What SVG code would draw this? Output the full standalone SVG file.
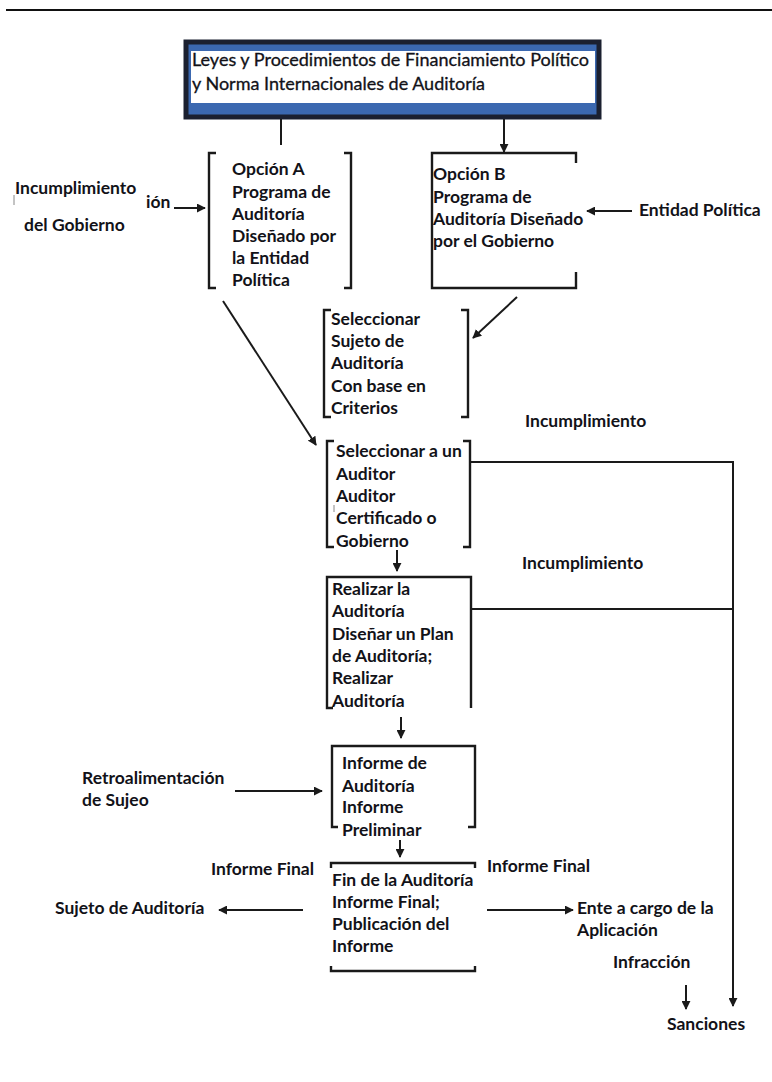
<svg xmlns="http://www.w3.org/2000/svg" width="772" height="1082" viewBox="0 0 772 1082">
<style>
  .t { font-family: Lato, "Open Sans", "Liberation Sans", sans-serif; font-size: 17.5px; font-weight: 700; fill: #121218; }
  .title { font-family: Lato, "Open Sans", "Liberation Sans", sans-serif; font-size: 17px; font-weight: 400; fill: #121218; stroke: #121218; stroke-width: 0.3; }
  .b { fill: none; stroke: #1a1a1a; stroke-width: 2.4; }
  .c { fill: none; stroke: #1a1a1a; stroke-width: 2; }
  .ca { fill: none; stroke: #1a1a1a; stroke-width: 2; marker-end: url(#ah); }
</style>
<defs>
  <marker id="ah" viewBox="0 0 10 10" refX="9" refY="5" markerWidth="9" markerHeight="9" markerUnits="userSpaceOnUse" orient="auto">
    <path d="M0,0 L10,5 L0,10 Z" fill="#1a1a1a"/>
  </marker>
</defs>
<rect width="772" height="1082" fill="#ffffff"/>
<line x1="6" y1="10" x2="772" y2="10" stroke="#111" stroke-width="2"/>

<g id="title">
  <rect x="186" y="42" width="413" height="75" fill="#3b68b0" stroke="#1b2030" stroke-width="5"/>
  <rect x="191" y="51" width="404" height="52" fill="#ffffff"/>
  <text class="title" x="192" y="66" textLength="397" lengthAdjust="spacingAndGlyphs">Leyes y Procedimientos de Financiamiento Político</text>
  <text class="title" x="192" y="90" textLength="293" lengthAdjust="spacingAndGlyphs">y Norma Internacionales de Auditoría</text>
</g>

<g id="opcionA">
  <path class="b" d="M216,153 H209 V288 H216 M344,153 H351 V288 H344"/>
  <text class="t" x="232" y="175">Opción A</text>
  <text class="t" x="232" y="198">Programa de</text>
  <text class="t" x="232" y="220">Auditoría</text>
  <text class="t" x="232" y="242">Diseñado por</text>
  <text class="t" x="232" y="264">la Entidad</text>
  <text class="t" x="232" y="286">Política</text>
</g>

<g id="opcionB">
  <path class="b" d="M576,163 V153 H432 V288 H576 V272"/>
  <text class="t" x="433" y="180">Opción B</text>
  <text class="t" x="433" y="203">Programa de</text>
  <text class="t" x="433" y="225">Auditoría Diseñado</text>
  <text class="t" x="433" y="247">por el Gobierno</text>
</g>

<g id="incumplimientoGobierno">
  <line x1="14" y1="195" x2="14" y2="205" stroke="#888" stroke-width="1"/>
  <text class="t" x="15" y="194">Incumplimiento</text>
  <text class="t" x="146" y="208">ión</text>
  <text class="t" x="24" y="231">del Gobierno</text>
</g>

<g id="entidadPolitica">
  <text class="t" x="639" y="216">Entidad Política</text>
</g>

<g id="seleccionarSujeto">
  <path class="b" d="M331,310 H324 V417 H331 M461,310 H468 V417 H461"/>
  <text class="t" x="331" y="325">Seleccionar</text>
  <text class="t" x="331" y="347">Sujeto de</text>
  <text class="t" x="331" y="369">Auditoría</text>
  <text class="t" x="331" y="392">Con base en</text>
  <text class="t" x="331" y="414">Criterios</text>
</g>

<g id="incumplimiento1">
  <text class="t" x="525" y="427">Incumplimiento</text>
</g>

<g id="seleccionarAuditor">
  <path class="b" d="M334,441 H327 V547 H334 M463,441 H470 V547 H463"/>
  <line x1="334" y1="505" x2="334" y2="512" stroke="#888" stroke-width="1"/>
  <text class="t" x="336" y="457">Seleccionar a un</text>
  <text class="t" x="336" y="480">Auditor</text>
  <text class="t" x="336" y="502">Auditor</text>
  <text class="t" x="336" y="524">Certificado o</text>
  <text class="t" x="336" y="547">Gobierno</text>
</g>

<g id="incumplimiento2">
  <text class="t" x="522" y="569">Incumplimiento</text>
</g>

<g id="realizar">
  <path class="b" d="M333,708 H327 V577 H471 V708"/>
  <text class="t" x="332" y="595">Realizar la</text>
  <text class="t" x="332" y="617">Auditoría</text>
  <text class="t" x="332" y="640">Diseñar un Plan</text>
  <text class="t" x="332" y="662">de Auditoría;</text>
  <text class="t" x="332" y="684">Realizar</text>
  <text class="t" x="332" y="707">Auditoría</text>
</g>

<g id="retro">
  <text class="t" x="82" y="784">Retroalimentación</text>
  <text class="t" x="82" y="806">de Sujeo</text>
</g>

<g id="informe">
  <path class="b" d="M338,827 H332 V746 H475 V827 H468"/>
  <text class="t" x="342" y="769">Informe de</text>
  <text class="t" x="342" y="792">Auditoría</text>
  <text class="t" x="342" y="813">Informe</text>
  <text class="t" x="342" y="836">Preliminar</text>
</g>

<g id="fin">
  <path class="b" d="M331,868 V863 H475 V868 M331,966 V971 H475 V966"/>
  <text class="t" x="332" y="886">Fin de la Auditoría</text>
  <text class="t" x="332" y="908">Informe Final;</text>
  <text class="t" x="332" y="930">Publicación del</text>
  <text class="t" x="332" y="952">Informe</text>
</g>

<g id="informeFinalIzq">
  <text class="t" x="211" y="875">Informe Final</text>
</g>
<g id="informeFinalDer">
  <text class="t" x="487" y="872">Informe Final</text>
</g>
<g id="sujetoAuditoria">
  <text class="t" x="55" y="914">Sujeto de Auditoría</text>
</g>
<g id="ente">
  <text class="t" x="577" y="914">Ente a cargo de la</text>
  <text class="t" x="577" y="936">Aplicación</text>
</g>
<g id="infraccion">
  <text class="t" x="613" y="968">Infracción</text>
</g>
<g id="sanciones">
  <text class="t" x="667" y="1030">Sanciones</text>
</g>

<g id="connectors">
  <line class="c" x1="281" y1="119" x2="281" y2="145"/>
  <line class="ca" x1="504" y1="119" x2="504" y2="152"/>
  <line class="ca" x1="174" y1="208" x2="205" y2="208"/>
  <line class="ca" x1="632" y1="211" x2="587" y2="211"/>
  <line class="ca" x1="517" y1="297" x2="473" y2="338"/>
  <line class="ca" x1="223" y1="301" x2="316" y2="445"/>
  <polyline class="ca" points="470,462 733,462 733,1006"/>
  <line class="c" x1="471" y1="609" x2="733" y2="609"/>
  <line class="ca" x1="397" y1="550" x2="397" y2="571"/>
  <line class="ca" x1="401" y1="717" x2="401" y2="738"/>
  <line class="ca" x1="400" y1="840" x2="400" y2="857"/>
  <line class="ca" x1="235" y1="791" x2="322" y2="791"/>
  <line class="ca" x1="303" y1="910" x2="219" y2="910"/>
  <line class="ca" x1="487" y1="910" x2="573" y2="910"/>
  <line class="ca" x1="686" y1="985" x2="686" y2="1009"/>
</g>
</svg>
